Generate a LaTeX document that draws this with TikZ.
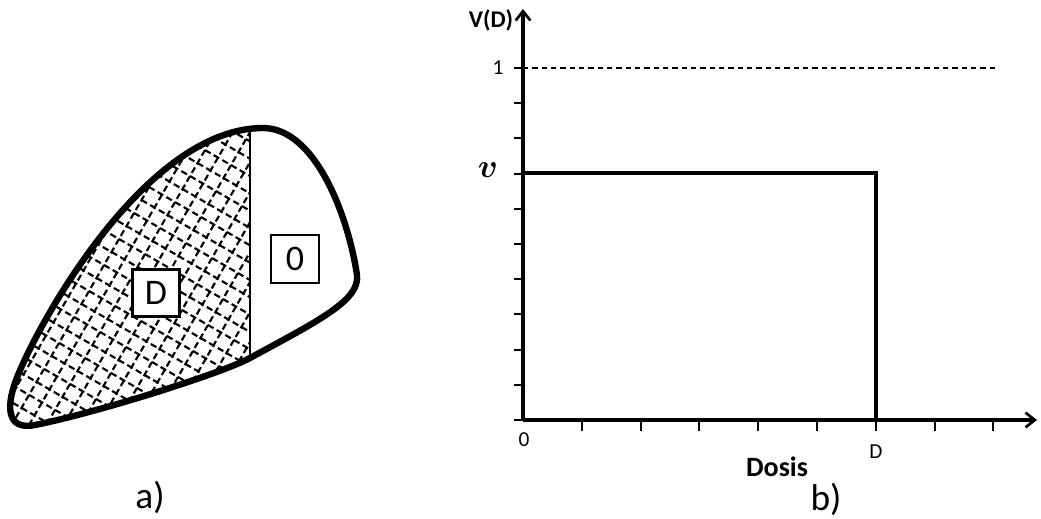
\documentclass[tikz,border=0pt]{standalone}
\usepackage{amsmath}
\usepackage{fontspec}
\setmainfont{Carlito}
\usetikzlibrary{arrows.meta}
\tikzset{
  outl/.style={draw,line width=4.8pt,line join=round},
  hatch/.style={draw,dash pattern=on 4.8pt off 2.7pt,line width=1.6pt},
  reg/.style={draw,fill=white,line width=1.8pt,minimum size=35pt,inner sep=0pt,font=\fontsize{27}{29}\selectfont},
  ax/.style={line width=2.3pt,-{Straight Barb[length=7pt,width=11pt,line width=2pt]}},
  tk/.style={line width=1.4pt},
  lv/.style={draw,line width=2.3pt},
  txt/.style={inner sep=0pt,font=\fontsize{16}{18}\selectfont}
}
\def\blob{(263,128) .. controls (315,128) and (348,215) .. (357,275)
    .. controls (360,300) and (320,320) .. (250,358)
    .. controls (225,372) and (100,412) .. (35,425)
    .. controls (5,431) and (6,404) .. (18,375)
    .. controls (45,310) and (150,128) .. (263,128)}
\begin{document}
\begin{tikzpicture}[x=0.75pt,y=-0.75pt]
  \useasboundingbox (0,0) rectangle (1041,518);
  % a) region split into two dose zones
  \coordinate (dtop) at (250,129);
  \coordinate (dbot) at (250,358);
  \begin{scope}
    \clip (0,0) rectangle (250,518);
    \clip \blob;
    \begin{scope}[shift={(130,280)},rotate=-30]
      \foreach \i in {-24,...,24}{
        \draw[hatch] (-330,\i*15) -- (330,\i*15);
        \draw[hatch] (\i*15,-330) -- (\i*15,330);
      }
    \end{scope}
  \end{scope}
  \draw[outl] \blob -- cycle;
  \draw[line width=1.8pt] (dtop) -- (dbot);
  \node[reg] (boxD) at (156,293) {D};
  \node[reg,minimum size=36pt] (box0) at (295,259) {0};
  \node[txt,font=\fontsize{28}{30}\selectfont] (la) at (150,497) {a)};
  % b) dose-volume plot
  \coordinate (O) at (523,420);
  \coordinate (ytop) at (523,9);
  \coordinate (xend) at (1037,420);
  \coordinate (vl) at (523,173);
  \coordinate (vr) at (876,173);
  \coordinate (dx) at (876,420);
  \coordinate (onel) at (523,68);
  \coordinate (oner) at (995,68);
  \foreach \k in {0,...,10}{\draw[tk] (514,420-\k*35.2) -- (523,420-\k*35.2);}
  \foreach \k in {1,...,8}{\draw[tk] (523+\k*58.8,420) -- (523+\k*58.8,431);}
  \draw[line width=1.1pt,dash pattern=on 4pt off 3pt] (onel) -- (oner);
  \draw[ax] (O) -- (ytop);
  \draw[ax] (O) -- (xend);
  \draw[lv] (vl) -- (vr) -- (dx);
  \node[txt,font=\fontsize{18}{20}\selectfont\bfseries] (vd) at (491,20) {V(D)};
  \node[txt] (one) at (498,68) {1};
  \node[txt,font=\fontsize{29}{31}\selectfont] (vv) at (488,170) {$\boldsymbol{v}$};
  \node[txt] (zero) at (524,440) {0};
  \node[txt] (dd) at (876,452) {D};
  \node[txt,font=\fontsize{21}{23}\selectfont\bfseries] (dosis) at (777,467) {Dosis};
  \node[txt,font=\fontsize{28}{30}\selectfont] (lb) at (826,499) {b)};
\end{tikzpicture}
\end{document}
